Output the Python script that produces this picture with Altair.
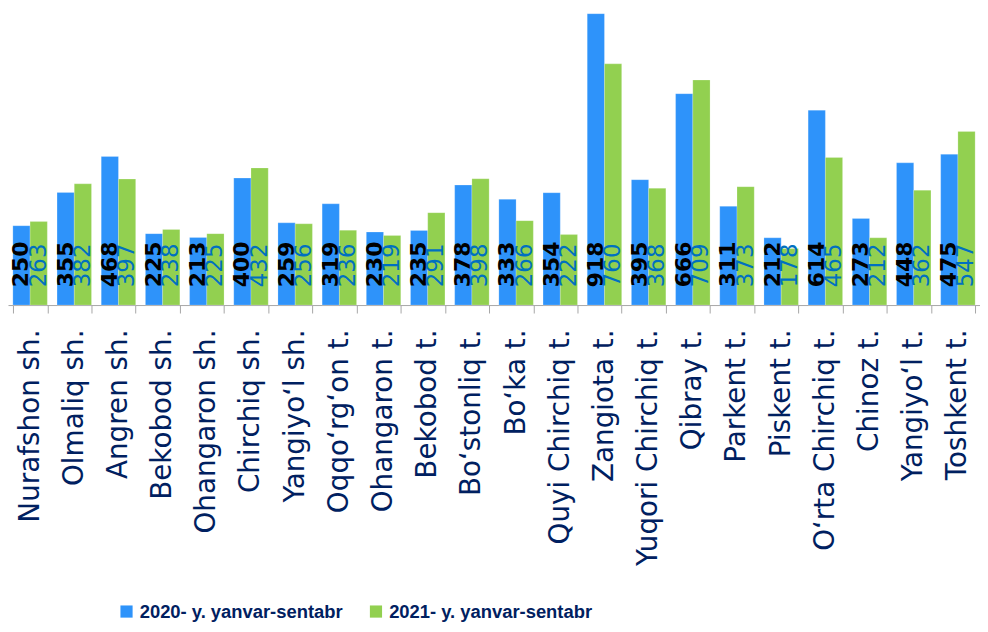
import altair as alt
import pandas as pd

categories = [
    "Nurafshon sh.", "Olmaliq sh.", "Angren sh.", "Bekobod sh.", "Ohangaron sh.",
    "Chirchiq sh.", "Yangiyo\u2018l sh.", "Oqqo\u2018rg\u2018on t.", "Ohangaron t.",
    "Bekobod t.", "Bo\u2018stonliq t.", "Bo\u2018ka t.", "Quyi Chirchiq t.",
    "Zangiota t.", "Yuqori Chirchiq t.", "Qibray t.", "Parkent t.", "Piskent t.",
    "O\u2018rta Chirchiq t.", "Chinoz t.", "Yangiyo\u2018l t.", "Toshkent t.",
]
series_names = ["2020- y. yanvar-sentabr", "2021- y. yanvar-sentabr"]
values_2020 = [250, 355, 468, 225, 213, 400, 259, 319, 230, 235, 378, 333, 354,
               918, 395, 666, 311, 212, 614, 273, 448, 475]
values_2021 = [263, 382, 397, 238, 225, 432, 256, 236, 219, 291, 398, 266, 222,
               760, 368, 709, 373, 178, 465, 212, 362, 547]

rows = []
for c, a, b in zip(categories, values_2020, values_2021):
    rows.append({"category": c, "series": series_names[0], "value": a})
    rows.append({"category": c, "series": series_names[1], "value": b})
df = pd.DataFrame(rows)

x_enc = alt.X(
    "category:N", sort=categories, title=None,
    scale=alt.Scale(paddingInner=0.22, paddingOuter=0.11),
    axis=alt.Axis(
        labelAngle=270, labelFont="DejaVu Sans", labelFontSize=28,
        labelColor="#002060", labelPadding=16, tickBand="extent",
        tickSize=8, tickColor="#a6a6a6", domainColor="#a6a6a6",
        labelLimit=400,
    ),
)
xoff = alt.XOffset("series:N", scale=alt.Scale(paddingInner=0, paddingOuter=0))
y_scale = alt.Scale(domain=[0, 930], nice=False, zero=True)

base = alt.Chart(df)

bars = base.mark_bar(stroke="#ffffff", strokeOpacity=0.35, strokeWidth=0.6).encode(
    x=x_enc,
    xOffset=xoff,
    y=alt.Y("value:Q", scale=y_scale, axis=None),
    color=alt.Color(
        "series:N",
        scale=alt.Scale(domain=series_names, range=["#2e93fa", "#92d050"]),
        legend=alt.Legend(
            title=None, orient="none", direction="horizontal",
            legendX=110, legendY=596, symbolType="square", symbolSize=150,
            symbolStrokeWidth=0, labelFont="Liberation Sans",
            labelFontSize=18.5, labelFontWeight="bold", labelColor="#002060",
            columnPadding=24, labelOffset=4, padding=0, labelLimit=500,
        ),
    ),
)

lab20 = base.transform_filter(alt.datum.series == series_names[0]).mark_text(
    angle=270, align="left", baseline="middle", dx=18,
    font="DejaVu Sans", fontSize=22, fontWeight="bold", color="#000000",
).encode(
    x=alt.X("category:N", sort=categories),
    xOffset=alt.XOffset("series:N"),
    y=alt.Y(datum=0, scale=y_scale),
    text="value:Q",
)

lab21 = base.transform_filter(alt.datum.series == series_names[1]).mark_text(
    angle=270, align="left", baseline="middle", dx=18,
    font="DejaVu Sans", fontSize=23, color="#0070c0",
).encode(
    x=alt.X("category:N", sort=categories),
    xOffset=alt.XOffset("series:N"),
    y=alt.Y(datum=0, scale=y_scale),
    text="value:Q",
)

chart = alt.layer(bars, lab20, lab21).properties(
    width=978, height=297,
    padding={"left": 0, "top": 0, "right": 0, "bottom": 318},
    autosize=alt.AutoSizeParams(type="none"),
).configure_view(stroke=None)

chart.save("out.html", embed_options={"renderer": "svg", "actions": False})
